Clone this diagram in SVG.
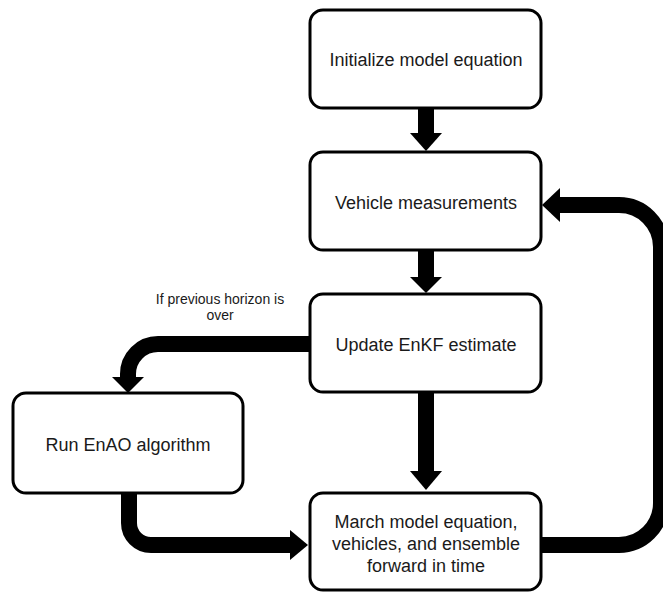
<svg xmlns="http://www.w3.org/2000/svg" width="663" height="592" viewBox="0 0 663 592">
<style>
.box{fill:#fff;stroke:#000;stroke-width:3}
.t{font-family:"Liberation Sans",Arial,sans-serif;font-size:18px;fill:#1a1a1a;text-anchor:middle}
.lbl{font-family:"Liberation Sans",Arial,sans-serif;font-size:14px;fill:#1a1a1a;text-anchor:middle}
.shaft{fill:none;stroke:#000;stroke-width:16}
.head{fill:#000}
</style>
<rect width="663" height="592" fill="#fff"/>
<g id="connectors">
<path class="shaft" d="M426,108 V134"/>
<polygon class="head" points="410,133 442,133 426,151"/>
<path class="shaft" d="M426,250 V278"/>
<polygon class="head" points="410,277 442,277 426,293"/>
<path class="shaft" d="M426,392 V472"/>
<polygon class="head" points="410,471 442,471 426,490"/>
<path class="shaft" d="M540,545 H619 A42,42 0 0 0 661,503 V247 A42,42 0 0 0 619,205 H559"/>
<polygon class="head" points="560,188 560,222 542,205"/>
<path class="shaft" d="M310,344 H158 A30,30 0 0 0 128,374 V378"/>
<polygon class="head" points="112,377 144,377 128,393"/>
<path class="shaft" d="M129,493 V523 A22,22 0 0 0 151,545 H291"/>
<polygon class="head" points="290,530 290,560 308,545"/>
<text class="lbl" x="220" y="304">If previous horizon is</text>
<text class="lbl" x="220" y="320">over</text>
</g>
<g id="init">
<rect class="box" x="310" y="10" width="231" height="98" rx="13"/>
<text class="t" x="426" y="66">Initialize model equation</text>
</g>
<g id="measure">
<rect class="box" x="310" y="152" width="231" height="98" rx="13"/>
<text class="t" x="426" y="209">Vehicle measurements</text>
</g>
<g id="update">
<rect class="box" x="310" y="294" width="231" height="98" rx="13"/>
<text class="t" x="426" y="351">Update EnKF estimate</text>
</g>
<g id="enao">
<rect class="box" x="13" y="393" width="230" height="100" rx="13"/>
<text class="t" x="128" y="451">Run EnAO algorithm</text>
</g>
<g id="march">
<rect class="box" x="310" y="493" width="231" height="97" rx="13"/>
<text class="t" x="426" y="528">March model equation,</text>
<text class="t" x="426" y="550">vehicles, and ensemble</text>
<text class="t" x="426" y="572">forward in time</text>
</g>
</svg>
